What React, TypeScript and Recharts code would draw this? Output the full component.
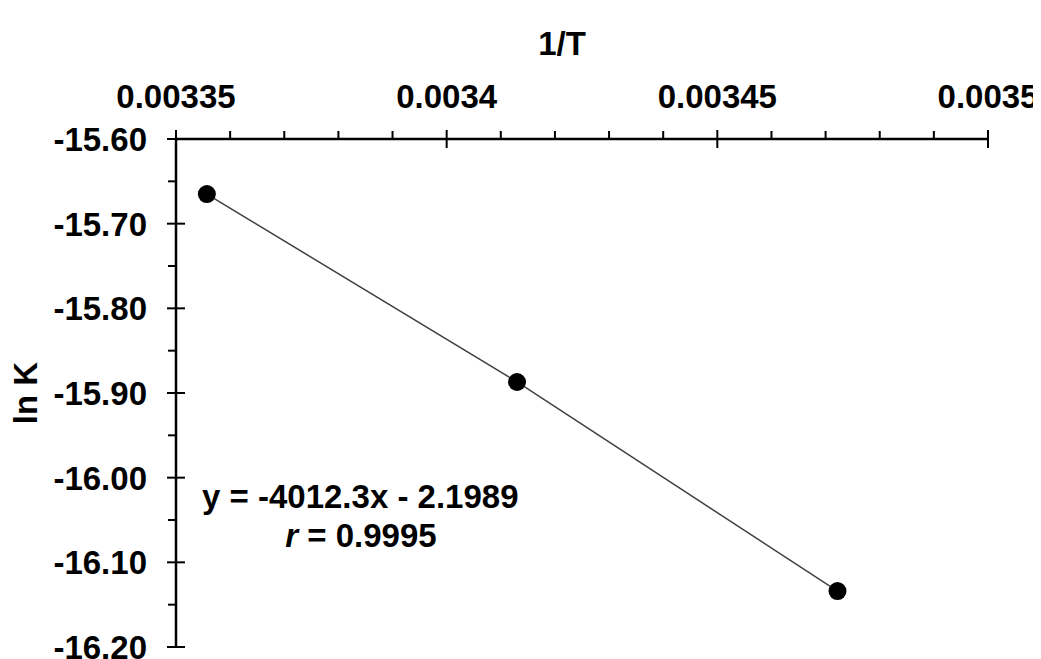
import React from "react";
import {
  ScatterChart,
  Scatter,
  XAxis,
  YAxis,
  Customized,
} from "recharts";

const invT = [0.0033557, 0.003413, 0.0034722];
const lnK = [-15.665, -15.887, -16.134];

const xMajorTicks = [0.00335, 0.0034, 0.00345, 0.0035];
const xMinorTicks = [
  0.00336, 0.00337, 0.00338, 0.00339, 0.00341, 0.00342, 0.00343, 0.00344,
  0.00346, 0.00347, 0.00348, 0.00349,
];
const yMajorTicks = [-15.6, -15.7, -15.8, -15.9, -16.0, -16.1, -16.2];
const yMinorTicks = [-15.65, -15.75, -15.85, -15.95, -16.05, -16.15];

const xLabels = ["0.00335", "0.0034", "0.00345", "0.0035"];
const yLabels = ["-15.60", "-15.70", "-15.80", "-15.90", "-16.00", "-16.10", "-16.20"];

const equation = "y = -4012.3x - 2.1989";
const rValue = "0.9995";

const FONT = "'Liberation Sans', Arial, sans-serif";
const FS = 33;

const data = invT.map((x, i) => ({ x, y: lnK[i] }));

function XTick(props: any) {
  const { x, y, payload } = props;
  const v = payload.value as number;
  const idx = xMajorTicks.findIndex((m) => Math.abs(m - v) < 1e-9);
  if (idx < 0) {
    return <line x1={x} x2={x} y1={y} y2={y - 8} stroke="#000" strokeWidth={2} />;
  }
  return (
    <g>
      <line x1={x} x2={x} y1={y - 9} y2={y + 9} stroke="#000" strokeWidth={2} />
      <text
        x={x}
        y={y - 31}
        textAnchor="middle"
        fontFamily={FONT}
        fontWeight="bold"
        fontSize={FS}
        fill="#000"
      >
        {xLabels[idx]}
      </text>
    </g>
  );
}

function YTick(props: any) {
  const { x, y, payload } = props;
  const v = payload.value as number;
  const idx = yMajorTicks.findIndex((m) => Math.abs(m - v) < 1e-9);
  if (idx < 0) {
    return <line x1={x} x2={x - 8} y1={y} y2={y} stroke="#000" strokeWidth={2} />;
  }
  return (
    <g>
      <line x1={x - 9} x2={x + 9} y1={y} y2={y} stroke="#000" strokeWidth={2} />
      <text
        x={x - 29}
        y={y + 12}
        textAnchor="end"
        fontFamily={FONT}
        fontWeight="bold"
        fontSize={FS}
        fill="#000"
      >
        {yLabels[idx]}
      </text>
    </g>
  );
}

function Annotations() {
  const style = { fontFamily: FONT, fontWeight: "bold" as const, fontSize: FS, fill: "#000" };
  return (
    <g>
      <text x={554} y={47} textAnchor="middle" {...style}>
        1/T
      </text>
      <text
        x={17}
        y={385}
        textAnchor="middle"
        dominantBaseline="central"
        transform="rotate(-90 17 385)"
        {...style}
      >
        ln K
      </text>
      <text x={194} y={500} {...style}>
        {equation}
      </text>
      <text x={353} y={539} textAnchor="middle" {...style}>
        <tspan fontStyle="italic">r</tspan> = {rValue}
      </text>
    </g>
  );
}

export default function App() {
  return (
    <div style={{ background: "#fff" }}>
      <ScatterChart
        width={1033}
        height={651}
        margin={{ top: 71, right: 53, bottom: 12, left: 68 }}
        style={{ overflow: "visible" }}
      >
        <XAxis
          type="number"
          dataKey="x"
          orientation="top"
          domain={[0.00335, 0.0035]}
          ticks={[...xMajorTicks, ...xMinorTicks].sort((a, b) => a - b)}
          allowDataOverflow
          height={60}
          tickSize={0}
          tickMargin={0}
          tickLine={false}
          interval={0}
          axisLine={{ stroke: "#000", strokeWidth: 2.5 }}
          tick={<XTick />}
        />
        <YAxis
          type="number"
          dataKey="y"
          domain={[-16.2, -15.6]}
          ticks={[...yMajorTicks, ...yMinorTicks].sort((a, b) => a - b)}
          allowDataOverflow
          width={100}
          tickSize={0}
          tickMargin={0}
          tickLine={false}
          interval={0}
          axisLine={{ stroke: "#000", strokeWidth: 2.5 }}
          tick={<YTick />}
        />
        <Scatter
          data={data}
          fill="#000"
          line={{ stroke: "#404040", strokeWidth: 1.5 }}
          shape={(p: any) => <circle cx={p.cx} cy={p.cy} r={9} fill="#000" />}
          isAnimationActive={false}
        />
        <Customized component={<Annotations />} />
      </ScatterChart>
    </div>
  );
}
